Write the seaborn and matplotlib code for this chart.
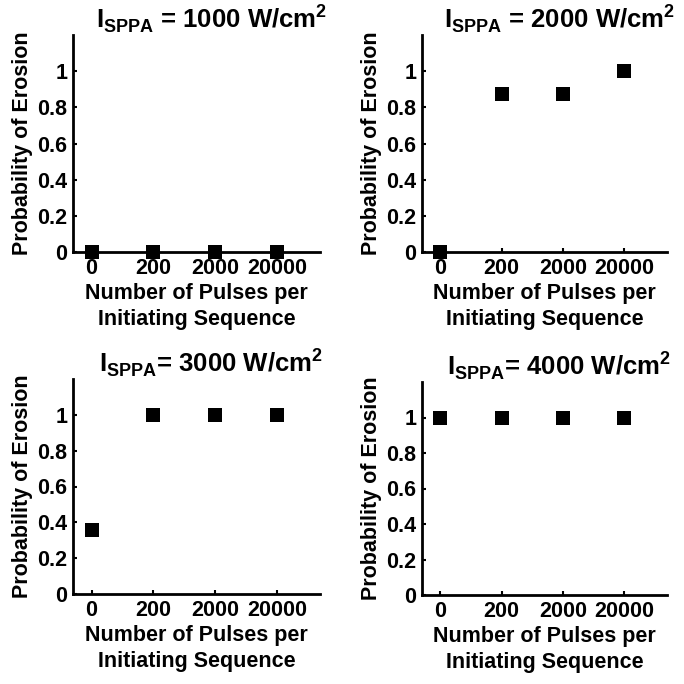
import numpy as np
import pandas as pd
import seaborn as sns
import matplotlib.pyplot as plt
from matplotlib.ticker import FixedLocator, LogLocator, NullFormatter

# data
pulse_pos = [20, 200, 2000, 20000]          # "0" pulses drawn at 20 on the log axis
pulse_labels = ["0", "200", "2000", "20000"]
intensities = ["1000", "2000", "3000", "4000"]
p_1000 = [0.0, 0.0, 0.0, 0.0]
p_2000 = [0.0, 0.875, 0.875, 1.0]
p_3000 = [0.36, 1.0, 1.0, 1.0]
p_4000 = [1.0, 1.0, 1.0, 1.0]
probs = [p_1000, p_2000, p_3000, p_4000]
eq_sep = [" = ", " = ", "= ", "= "]

sns.set_style("white")
plt.rcParams["font.family"] = ["Liberation Sans", "DejaVu Sans"]
plt.rcParams["font.weight"] = "bold"
plt.rcParams["text.color"] = "black"
plt.rcParams["axes.labelcolor"] = "black"
plt.rcParams["xtick.color"] = "black"
plt.rcParams["ytick.color"] = "black"
plt.rcParams["mathtext.fontset"] = "custom"
plt.rcParams["mathtext.rm"] = "Liberation Sans:bold"
plt.rcParams["mathtext.bf"] = "Liberation Sans:bold"

fig = plt.figure(figsize=(6.84, 6.84), dpi=100)
W = 684.0
boxes = [(73, 35, 320, 252), (422, 35, 667, 252),
         (73, 379, 320, 594), (422, 382, 667, 595)]

for i, (x0, y0, x1, y1) in enumerate(boxes):
    ax = fig.add_axes([x0 / W, 1 - y1 / W, (x1 - x0) / W, (y1 - y0) / W])
    df = pd.DataFrame({"pulses": pulse_pos, "prob": probs[i]})
    sns.scatterplot(data=df, x="pulses", y="prob", marker="s", color="black",
                    s=100, edgecolor="black", linewidth=0, ax=ax, clip_on=False, zorder=5)
    ax.set_xscale("log")
    ax.set_xlim(10, 100000)
    ax.set_ylim(0, 1.2)
    ax.xaxis.set_major_locator(FixedLocator(pulse_pos))
    ax.set_xticklabels(pulse_labels)
    ax.xaxis.set_minor_locator(LogLocator(base=10, subs=np.arange(2, 10)))
    ax.xaxis.set_minor_formatter(NullFormatter())
    ax.set_yticks([0, 0.2, 0.4, 0.6, 0.8, 1])
    ax.set_yticklabels(["0", "0.2", "0.4", "0.6", "0.8", "1"])
    ax.tick_params(which="both", direction="in", bottom=True, left=True,
                   length=3, width=1.5, labelsize=15.5, pad=4)
    ax.tick_params(which="minor", length=2, width=1.5)
    for side in ["top", "right"]:
        ax.spines[side].set_visible(False)
    for side in ["left", "bottom"]:
        ax.spines[side].set_linewidth(2)
        ax.spines[side].set_color("black")
    ax.set_xlabel("Number of Pulses per\nInitiating Sequence", fontsize=15.5,
                  fontweight="bold", labelpad=3, linespacing=1.3)
    ax.set_ylabel("Probability of Erosion", fontsize=15.5, fontweight="bold", labelpad=3)
    ax.set_title(r"I$_{\rm SPPA}$" + eq_sep[i] + intensities[i] + r" W/cm$^{\rm 2}$",
                 fontsize=18.5, fontweight="bold", x=0.56, pad=5)

fig.savefig("out.png", dpi=100)
